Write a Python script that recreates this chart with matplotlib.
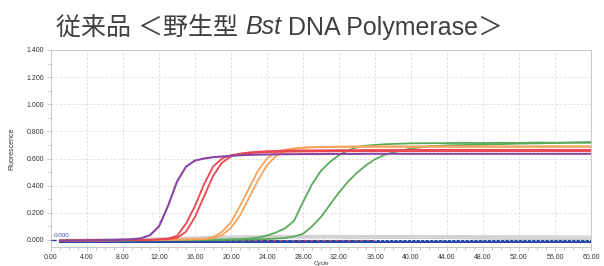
import matplotlib
matplotlib.use("Agg")
import matplotlib.pyplot as plt
from matplotlib.ticker import MultipleLocator, FormatStrFormatter

plt.rcParams['font.family'] = ['Liberation Sans', 'Noto Sans CJK JP', 'DejaVu Sans']

# title is drawn in three pieces so "Bst" can be italic
title_parts = ["従来品 ＜野生型 ", "Bst", " DNA Polymerase＞"]

# cycle grid, dense where the curves rise
cycles = ([1, 3, 5, 7, 9]
          + list(range(10, 40))
          + [40, 42, 44, 46, 48, 50]
          + [52, 54, 56, 58, 60])

purple = ([-0.005, -0.004, -0.002, 0.000, 0.005]
          + [0.012, 0.035, 0.100, 0.250, 0.430, 0.540, 0.585, 0.600, 0.610, 0.615]
          + [0.620, 0.624, 0.627, 0.629, 0.630, 0.631, 0.632, 0.632, 0.633, 0.633]
          + [0.633, 0.634, 0.634, 0.634, 0.634, 0.635, 0.635, 0.635, 0.635, 0.635]
          + [0.635, 0.635, 0.635, 0.635, 0.635, 0.635]
          + [0.635, 0.635, 0.635, 0.635, 0.635])
red1 = ([-0.005, -0.004, -0.003, -0.002, 0.000]
        + [0.000, 0.002, 0.005, 0.010, 0.030, 0.120, 0.250, 0.410, 0.540, 0.600]
        + [0.625, 0.635, 0.640, 0.644, 0.647, 0.649, 0.650, 0.651, 0.652, 0.652]
        + [0.653, 0.653, 0.654, 0.654, 0.654, 0.655, 0.655, 0.655, 0.655, 0.655]
        + [0.655, 0.655, 0.655, 0.655, 0.655, 0.655]
        + [0.655, 0.655, 0.655, 0.655, 0.655])
red2 = ([-0.005, -0.004, -0.003, -0.002, 0.000]
        + [0.000, 0.001, 0.003, 0.006, 0.015, 0.060, 0.170, 0.320, 0.470, 0.570]
        + [0.615, 0.635, 0.645, 0.650, 0.654, 0.656, 0.658, 0.659, 0.660, 0.660]
        + [0.661, 0.661, 0.662, 0.662, 0.662, 0.663, 0.663, 0.663, 0.663, 0.663]
        + [0.664, 0.664, 0.664, 0.664, 0.664, 0.664]
        + [0.664, 0.664, 0.664, 0.664, 0.664])
orange1 = ([-0.005, -0.004, -0.003, -0.002, -0.001]
           + [0.000, 0.000, 0.001, 0.002, 0.003, 0.004, 0.006, 0.008, 0.020, 0.060]
           + [0.130, 0.250, 0.380, 0.510, 0.600, 0.645, 0.665, 0.675, 0.680, 0.684]
           + [0.686, 0.687, 0.688, 0.689, 0.689, 0.690, 0.690, 0.690, 0.690, 0.690]
           + [0.690, 0.690, 0.690, 0.690, 0.690, 0.690]
           + [0.690, 0.690, 0.690, 0.690, 0.690])
orange2 = ([-0.005, -0.004, -0.003, -0.002, -0.001]
           + [0.000, 0.000, 0.001, 0.002, 0.003, 0.004, 0.005, 0.006, 0.012, 0.035]
           + [0.090, 0.180, 0.310, 0.440, 0.550, 0.620, 0.655, 0.670, 0.678, 0.682]
           + [0.684, 0.685, 0.686, 0.686, 0.686, 0.686, 0.686, 0.686, 0.686, 0.686]
           + [0.686, 0.686, 0.686, 0.686, 0.686, 0.686]
           + [0.686, 0.686, 0.686, 0.686, 0.686])
green1 = ([-0.005, -0.004, -0.004, -0.003, -0.003]
          + [-0.002, -0.002, -0.001, -0.001, 0.000, 0.000, 0.001, 0.001, 0.002, 0.003]
          + [0.004, 0.006, 0.010, 0.018, 0.032, 0.055, 0.085, 0.140, 0.280, 0.410]
          + [0.510, 0.575, 0.625, 0.660, 0.683, 0.695, 0.700, 0.705, 0.708, 0.710]
          + [0.712, 0.713, 0.714, 0.715, 0.714, 0.716]
          + [0.715, 0.718, 0.716, 0.717, 0.716])
green2 = ([-0.005, -0.004, -0.004, -0.003, -0.003]
          + [-0.002, -0.002, -0.002, -0.001, -0.001, 0.000, 0.000, 0.000, 0.001, 0.001]
          + [0.002, 0.003, 0.004, 0.005, 0.007, 0.010, 0.015, 0.025, 0.045, 0.100]
          + [0.170, 0.260, 0.350, 0.430, 0.495, 0.550, 0.595, 0.625, 0.645, 0.660]
          + [0.675, 0.690, 0.697, 0.700, 0.703, 0.706]
          + [0.710, 0.712, 0.715, 0.718, 0.722])
gray1 = ([0.000, 0.002, 0.004, 0.006, 0.008]
         + [0.009, 0.010, 0.012, 0.014, 0.016, 0.018, 0.020, 0.022, 0.024, 0.025]
         + [0.026, 0.027, 0.028, 0.028, 0.029, 0.029, 0.030, 0.030, 0.030, 0.030]
         + [0.030, 0.030, 0.030, 0.030, 0.030, 0.030, 0.030, 0.030, 0.030, 0.030]
         + [0.030, 0.030, 0.029, 0.029, 0.028, 0.028]
         + [0.027, 0.027, 0.026, 0.026, 0.025])
gray2 = ([0.000, 0.001, 0.002, 0.003, 0.005]
         + [0.006, 0.007, 0.008, 0.010, 0.012, 0.013, 0.015, 0.016, 0.018, 0.019]
         + [0.020, 0.021, 0.021, 0.022, 0.022, 0.022, 0.022, 0.022, 0.022, 0.022]
         + [0.021, 0.021, 0.021, 0.020, 0.020, 0.020, 0.019, 0.019, 0.018, 0.018]
         + [0.017, 0.016, 0.014, 0.012, 0.010, 0.008]
         + [0.006, 0.004, 0.002, 0.000, -0.002])
gray3 = ([-0.002, -0.001, 0.000, 0.001, 0.002]
         + [0.003, 0.004, 0.005, 0.006, 0.007, 0.008, 0.009, 0.010, 0.011, 0.012]
         + [0.013, 0.014, 0.015, 0.015, 0.016, 0.016, 0.016, 0.016, 0.016, 0.016]
         + [0.016, 0.016, 0.016, 0.015, 0.015, 0.015, 0.015, 0.015, 0.015, 0.015]
         + [0.015, 0.015, 0.015, 0.014, 0.014, 0.013]
         + [0.013, 0.012, 0.012, 0.011, 0.011])
blue = [-0.006] * len(cycles)

threshold = 0.0

fig = plt.figure(figsize=(6.04, 2.66), dpi=100)
ax = fig.add_axes([51 / 604, 1 - 247 / 266, 540 / 604, 197 / 266])

for g in (gray1, gray2, gray3):
    ax.plot(cycles, g, color='#d2d2d2', lw=1.4, zorder=2)
ax.plot(cycles, blue, color='#2a4aa8', lw=2.2, zorder=3)
ax.plot([1, 36], [threshold, threshold], color='#e0505a', lw=0.9, ls=(0, (2, 3)), zorder=4)
ax.plot([36, 60], [threshold - 0.004, threshold - 0.004], color='white', lw=0.8, ls=(0, (1, 3)), zorder=4)

ax.plot(cycles, green2, color='#5aaa5c', lw=1.3, zorder=5)
ax.plot(cycles, green1, color='#5aaa5c', lw=1.3, zorder=5)
ax.plot(cycles, orange2, color='#f6a35c', lw=1.3, zorder=6)
ax.plot(cycles, orange1, color='#f6a35c', lw=1.3, zorder=6)
ax.plot(cycles, red2, color='#ea4650', lw=1.3, zorder=7)
ax.plot(cycles, red1, color='#ea4650', lw=1.3, zorder=7)
ax.plot(cycles, purple, color='#8c44a0', lw=1.5, zorder=8)

# threshold marker
ax.plot([0, 0.7], [threshold, threshold], color='#2a4aa8', lw=1.0, ls='--', zorder=9, clip_on=False)
ax.text(0.3, 0.012, "0.000", fontsize=4.5, color='#2a4aa8', va='bottom', ha='left')

ax.set_xlim(0, 60)
ax.set_ylim(-0.052, 1.4)
ax.xaxis.set_major_locator(MultipleLocator(4))
ax.xaxis.set_minor_locator(MultipleLocator(1))
ax.yaxis.set_major_locator(MultipleLocator(0.2))
ax.yaxis.set_minor_locator(MultipleLocator(0.1))
ax.xaxis.set_major_formatter(FormatStrFormatter('%.2f'))
ax.yaxis.set_major_formatter(FormatStrFormatter('%.3f'))
ax.tick_params(which='both', labelsize=5, colors='#c0c0c0', labelcolor='#333333',
               length=3, width=0.6, pad=2)
ax.tick_params(which='minor', length=2)
ax.grid(True, which='major', color='#dcdcdc', ls=(0, (3, 2)), lw=0.6)
for s in ax.spines.values():
    s.set_color('#c8c8c8')
    s.set_linewidth(0.7)

ax.set_ylabel("Fluorescence", fontsize=5, color='#333333', labelpad=8)
ax.set_xlabel("Cycle", fontsize=4.5, color='#333333', labelpad=0.3)

# title pieces placed one after another
renderer = fig.canvas.get_renderer()
x = 56 / 604
y = 1 - 25 / 266
for i, part in enumerate(title_parts):
    style = 'italic' if i == 1 else 'normal'
    t = fig.text(x, y, part, fontsize=18, color='#404040', va='center_baseline', ha='left',
                 style=style)
    bb = t.get_window_extent(renderer=renderer)
    x = bb.x1 / fig.bbox.width

fig.savefig("out.png", dpi=100)
